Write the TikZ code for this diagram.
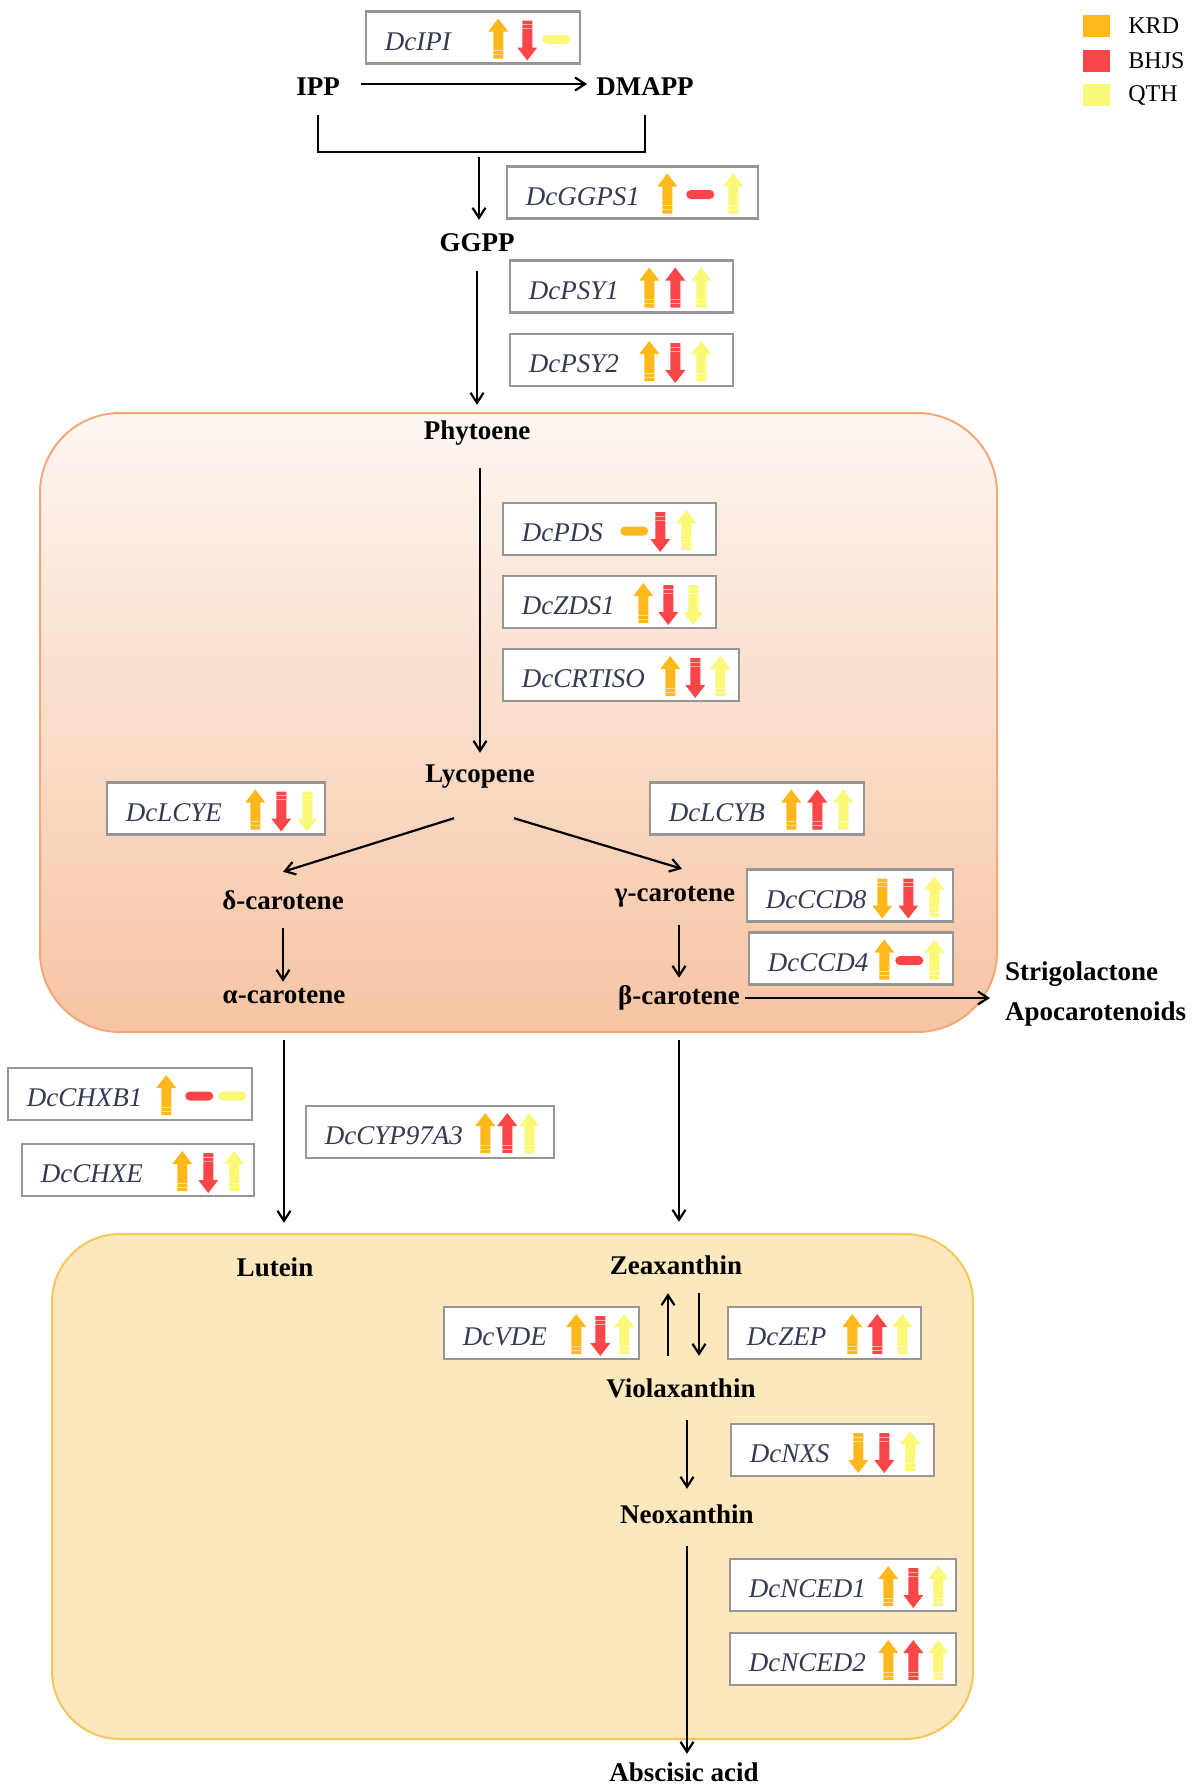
\documentclass[tikz,border=0pt]{standalone}
\usepackage{fontspec}
\setmainfont{Liberation Serif}
\usetikzlibrary{arrows.meta, positioning}
\definecolor{krdorange}{RGB}{255,184,28}
\definecolor{bhjsred}{RGB}{250,70,72}
\definecolor{qthyellow}{RGB}{250,248,118}
\definecolor{boxgray}{RGB}{150,150,150}
\definecolor{genetext}{RGB}{52,58,82}
\definecolor{plastidtop}{RGB}{253,246,241}
\definecolor{plastidbot}{RGB}{246,196,163}
\definecolor{plastidline}{RGB}{243,168,122}
\definecolor{chromofill}{RGB}{253,232,190}
\definecolor{chromoline}{RGB}{246,198,90}

% gene box: name, centre, width, label, three marks, last mark from right, spacing
\newcommand{\genebox}[9]{%
  \node[gbox, minimum width=#3pt] (#1) at (#2) {};
  \node[gname] (#1-t) at ([xshift=20, yshift=-4]#1.west) {#4};
  \pic at ([xshift=-#8-2*#9, yshift=-2]#1.east) {#5};
  \pic at ([xshift=-#8-#9, yshift=-2]#1.east) {#6};
  \pic at ([xshift=-#8, yshift=-2]#1.east) {#7};
}

\begin{document}
\begin{tikzpicture}[
    x=1pt, y=1pt,
    cpd/.style={font=\fontsize{27}{32}\selectfont\bfseries,
        minimum height=56pt, inner xsep=5pt, inner ysep=0pt},
    gbox/.style={draw=boxgray, line width=2.5pt, fill=white,
        minimum height=52pt, inner sep=0pt},
    gname/.style={font=\fontsize{27}{32}\selectfont\itshape, text=genetext,
        anchor=west, inner sep=0pt},
    arrow/.style={-{Straight Barb[length=10pt, width=13pt]}, line width=2.2pt},
    legsq/.style={minimum width=27pt, minimum height=22pt, inner sep=0pt},
    legtx/.style={font=\fontsize{24}{28}\selectfont, anchor=west, inner sep=0pt},
    pics/genup/.style={code={
        \fill[#1] (-5,-19) -- (-5,8) -- (-10,8) -- (0,21) -- (10,8) -- (5,8) -- (5,-19) -- cycle;
        \foreach \s in {-15,-11} \draw[white, line width=0.6pt, opacity=0.55] (-5,\s) -- (5,\s);
    }},
    pics/gendown/.style={code={
        \fill[#1] (-5,19) -- (-5,-8) -- (-10,-8) -- (0,-21) -- (10,-8) -- (5,-8) -- (5,19) -- cycle;
        \foreach \s in {15,11} \draw[white, line width=0.6pt, opacity=0.55] (-5,\s) -- (5,\s);
    }},
    pics/genflat/.style={code={
        \fill[#1, rounded corners=4.5pt] (-14,-4.5) rectangle (14,4.5);
    }}
]
\useasboundingbox (0,0) rectangle (1194,-1788);

% compartments
\draw[draw=plastidline, line width=2pt, top color=plastidtop, bottom color=plastidbot,
    rounded corners=80pt] (40,-413) rectangle (997,-1032);
\draw[draw=chromoline, line width=2pt, fill=chromofill,
    rounded corners=68pt] (52,-1234) rectangle (973,-1739);

% compounds
\node[cpd] (ipp) at (318,-87) {IPP};
\node[cpd] (dmapp) at (645,-87) {DMAPP};
\node[cpd] (ggpp) at (477,-243) {GGPP};
\node[cpd] (phy) at (477,-433) {Phytoene};
\node[cpd] (lyc) at (480,-777) {Lycopene};
\node[cpd] (dcar) at (283,-900) {δ-carotene};
\node[cpd] (gcar) at (675,-897) {γ-carotene};
\node[cpd] (acar) at (284,-996) {α-carotene};
\node[cpd] (bcar) at (679,-998) {β-carotene};
\node[cpd, anchor=west] (strigo) at (1000,-974) {Strigolactone};
\node[cpd, anchor=west] (apoc) at (1000,-1014) {Apocarotenoids};
\node[cpd] (lut) at (275,-1267) {Lutein};
\node[cpd] (zea) at (676,-1265) {Zeaxanthin};
\node[cpd] (vio) at (681,-1388) {Violaxanthin};
\node[cpd] (neo) at (687,-1514) {Neoxanthin};
\node[cpd] (aba) at (684,-1772) {Abscisic acid};

% reactions
\draw[arrow, shorten <=16pt, shorten >=4pt] ([yshift=3]ipp.east) -- ([yshift=3]dmapp.west);
\draw[line width=2.2pt] (ipp.south) -- ++(0,-37) -| (dmapp.south);
\coordinate (join) at (479,-157);
\draw[arrow, shorten >=-5pt] (join) -- (join |- ggpp.north);
\draw[arrow] (ggpp) -- (phy);
\draw[arrow, shorten <=7pt, shorten >=-4pt] (lyc.north |- phy.south) -- (lyc.north);
\draw[arrow] ([xshift=-26,yshift=-13]lyc.south) -- (dcar.north);
\draw[arrow] ([xshift=34,yshift=-13]lyc.south) -- ([xshift=7]gcar.north);
\draw[arrow, shorten >=-14pt] (dcar) -- (dcar |- acar.north);
\draw[arrow, shorten >=-8pt] (bcar.north |- gcar.south) -- (bcar.north);
\draw[arrow, shorten >=10pt] (bcar.east) -- (bcar.east -| strigo.west);
\draw[arrow, shorten <=16pt, shorten >=16pt] (acar.south) -- (acar.south |- lut.north);
\draw[arrow, shorten <=14pt, shorten >=15pt] (bcar.south) -- (bcar.south |- zea.north);
\coordinate (vup) at ([xshift=-13]vio.north);
\coordinate (vdn) at ([xshift=18]vio.north);
\draw[arrow, shorten <=4pt] (vup) -- (vup |- zea.south);
\draw[arrow, shorten >=4pt] (vdn |- zea.south) -- (vdn);
\draw[arrow, shorten <=4pt, shorten >=-3pt] (neo.north |- vio.south) -- (neo.north);
\draw[arrow, shorten <=4pt, shorten >=-10pt] (neo) -- (neo |- aba.north);

% genes
\genebox{ipi}{473,-37.5}{214}{DcIPI}{genup=krdorange}{gendown=bhjsred}{genflat=qthyellow}{25}{29}
\genebox{ggps}{632.5,-192.5}{251}{DcGGPS1}{genup=krdorange}{genflat=bhjsred}{genup=qthyellow}{26}{33}
\genebox{psya}{621.5,-286.5}{223}{DcPSY1}{genup=krdorange}{genup=bhjsred}{genup=qthyellow}{33}{26}
\genebox{psyb}{621.5,-360}{223}{DcPSY2}{genup=krdorange}{gendown=bhjsred}{genup=qthyellow}{33}{26}
\genebox{pds}{609.5,-529}{213}{DcPDS}{genflat=krdorange}{gendown=bhjsred}{genup=qthyellow}{31}{26}
\genebox{zds}{609.5,-602}{213}{DcZDS1}{genup=krdorange}{gendown=bhjsred}{gendown=qthyellow}{24}{25}
\genebox{crtiso}{621,-675}{236}{DcCRTISO}{genup=krdorange}{gendown=bhjsred}{genup=qthyellow}{20}{25}
\genebox{lcye}{216,-808.5}{218}{DcLCYE}{genup=krdorange}{gendown=bhjsred}{gendown=qthyellow}{19}{26}
\genebox{lcyb}{757,-808.5}{214}{DcLCYB}{genup=krdorange}{genup=bhjsred}{genup=qthyellow}{22}{26}
\genebox{ccdh}{850,-895.5}{206}{DcCCD8}{gendown=krdorange}{gendown=bhjsred}{genup=qthyellow}{20}{26}
\genebox{ccdd}{851,-958.5}{204}{DcCCD4}{genup=krdorange}{genflat=bhjsred}{genup=qthyellow}{20}{25}
\genebox{chxb}{130,-1094}{244}{DcCHXB1}{genup=krdorange}{genflat=bhjsred}{genflat=qthyellow}{21}{33}
\genebox{chxe}{138,-1170}{232}{DcCHXE}{genup=krdorange}{gendown=bhjsred}{genup=qthyellow}{21}{26}
\genebox{cyp}{430,-1132}{248}{DcCYP97A3}{genup=krdorange}{genup=bhjsred}{genup=qthyellow}{26}{22}
\genebox{vde}{541.5,-1333}{195}{DcVDE}{genup=krdorange}{gendown=bhjsred}{genup=qthyellow}{16}{24}
\genebox{zep}{824.5,-1333}{193}{DcZEP}{genup=krdorange}{genup=bhjsred}{genup=qthyellow}{20}{25}
\genebox{nxs}{832.5,-1450}{203}{DcNXS}{gendown=krdorange}{gendown=bhjsred}{genup=qthyellow}{25}{26}
\genebox{nceda}{843,-1585}{226}{DcNCED1}{genup=krdorange}{gendown=bhjsred}{genup=qthyellow}{19}{25}
\genebox{ncedb}{843,-1659}{226}{DcNCED2}{genup=krdorange}{genup=bhjsred}{genup=qthyellow}{19}{25}

% legend
\node[legsq, fill=krdorange] (lgk) at (1096.5,-26) {};
\node[legsq, fill=bhjsred] (lgb) at (1096.5,-61) {};
\node[legsq, fill=qthyellow] (lgq) at (1096.5,-95) {};
\node[legtx, right=18pt of lgk] (lgktx) {KRD};
\node[legtx, right=18pt of lgb] (lgbtx) {BHJS};
\node[legtx, right=18pt of lgq] (lgqtx) {QTH};

\end{tikzpicture}
\end{document}
